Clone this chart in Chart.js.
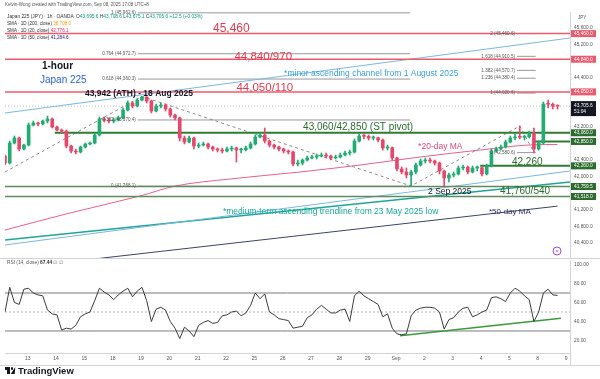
<!DOCTYPE html>
<html>
<head>
<meta charset="utf-8">
<script src="https://cdn.jsdelivr.net/npm/chart.js@4.4.1/dist/chart.umd.min.js"></script>
<style>
  body { margin: 0; background: #fff; }
  #wrap { position: relative; width: 600px; height: 379px; overflow: hidden; font-family: 'Liberation Sans', Arial, sans-serif; }
  canvas { position: absolute; left: 0; }
  #price { top: 0; }
  #rsi { top: 259px; }
  .txt { position: absolute; white-space: nowrap; line-height: 1; }
  .g { color: #089981; }
</style>
</head>
<body>
<div id="wrap">
  <canvas id="price" width="600" height="259"></canvas>
  <canvas id="rsi" width="600" height="120"></canvas>

  <div class="txt" style="left:5px;top:3px;font-size:4.5px;color:#555">Kelvin-Wong created with TradingView.com, Sep 08, 2025 17:08 UTC+8</div>
  <div class="txt" style="left:7px;top:14.5px;font-size:4.8px;color:#333">Japan 225 (JPY) · 1h · OANDA &nbsp;O<span class="g">43,695.6</span> H<span class="g">43,708.6</span> L<span class="g">43,675.1</span> C<span class="g">43,705.6</span> <span class="g">+12.5 (+0.03%)</span></div>
  <div class="txt" style="left:7px;top:21.5px;font-size:4.6px;color:#333">SMA · 1D (200, close) <span style="color:#f5a000">38,708.0</span></div>
  <div class="txt" style="left:7px;top:28.5px;font-size:4.6px;color:#333">SMA · 1D (20, close) <span style="color:#e91e63">42,776.1</span></div>
  <div class="txt" style="left:7px;top:35.5px;font-size:4.6px;color:#333">SMA · 1D (50, close) <span style="color:#1a237e">41,284.6</span></div>

  <div style="position:absolute;left:5px;top:367px;width:5px;height:2.5px;background:#131722"></div>
  <div style="position:absolute;left:7px;top:367px;width:2.5px;height:7px;background:#131722"></div>
  <div style="position:absolute;left:10.5px;top:367px;width:2.5px;height:2.5px;border-radius:50%;background:#131722"></div>
  <div style="position:absolute;left:12px;top:367px;width:0;height:0;border-left:2px solid transparent;border-right:2px solid transparent;border-bottom:7px solid #131722;transform:skewX(-20deg)"></div>
  <div class="txt" style="left:18px;top:366px;font-size:9.5px;font-weight:bold;color:#131722">TradingView</div>
</div>

<script>
// Japan 225 (OANDA) 1h chart, drawn as 4-hour candles

// ---- data ----
const dayLabels = ['13', '14', '15', '18', '19', '20', '21', '22', '25', '26', '27', '28', '29', 'Sep', '2', '3', '4', '5', '8', '9'];
const BAR_START = -0.8;     // first bar, in trading days (0 = 13 Aug)
const BARS_PER_DAY = 6;

const opens = [42498, 42329, 42813, 42934, 42668, 42764, 43248, 43297, 43273, 43345,
  43394, 43200, 43127, 43103, 42740, 42619, 42595, 42716, 42789, 42813,
  43006, 43394, 43369, 43345, 43369, 43418, 43611, 43781, 43708, 43853,
  43926, 43829, 43587, 43708, 43732, 43636, 43490, 43418, 42934, 42837,
  42934, 42740, 42764, 42789, 42716, 42668, 42643, 42619, 42668, 42692,
  42643, 42650, 42692, 42789, 42958, 43006, 42861, 42764, 42716, 42668,
  42619, 42595, 42305, 42329, 42401, 42450, 42474, 42498, 42522, 42498,
  42450, 42474, 42522, 42571, 42595, 42861, 42982, 42975, 42934, 42940,
  42885, 42692, 42700, 42450, 42184, 42111, 42038, 42111, 42280, 42377,
  42401, 42377, 42329, 42135, 41966, 42038, 42063, 42208, 42232, 42111,
  42208, 42215, 42063, 42256, 42619, 42668, 42716, 42837, 42934, 42958,
  42950, 42960, 43055, 42668, 42813, 43757, 43750, 43708];
const highs = [42522, 42861, 42982, 42958, 42789, 43297, 43345, 43321, 43369, 43466,
  43418, 43224, 43152, 43127, 42764, 42668, 42740, 42813, 42837, 43055,
  43442, 43442, 43418, 43418, 43466, 43660, 43829, 43805, 43878, 43942,
  43935, 43853, 43757, 43781, 43757, 43660, 43515, 43442, 42982, 42982,
  42958, 42813, 42837, 42813, 42740, 42692, 42692, 42716, 42740, 42716,
  42692, 42740, 42837, 43006, 43055, 43176, 42885, 42789, 42740, 42692,
  42643, 42619, 42401, 42426, 42498, 42522, 42547, 42571, 42571, 42522,
  42522, 42571, 42619, 42643, 42910, 43031, 43031, 43006, 42982, 42958,
  42910, 42764, 42716, 42474, 42232, 42208, 42159, 42329, 42426, 42450,
  42450, 42401, 42353, 42159, 42087, 42111, 42256, 42280, 42256, 42256,
  42256, 42232, 42305, 42668, 42716, 42764, 42885, 42982, 43031, 43224,
  43006, 43103, 43176, 42861, 43805, 43853, 43781, 43732];
const lows = [42280, 42305, 42789, 42619, 42643, 42740, 43224, 43224, 43248, 43297,
  43176, 43103, 43055, 42692, 42571, 42547, 42571, 42692, 42764, 42789,
  42982, 43321, 43297, 43297, 43345, 43394, 43587, 43660, 43684, 43829,
  43781, 43539, 43563, 43660, 43587, 43442, 43369, 42861, 42789, 42813,
  42668, 42692, 42740, 42668, 42619, 42595, 42571, 42595, 42619, 42353,
  42571, 42619, 42668, 42764, 42934, 42813, 42716, 42668, 42619, 42571,
  42547, 42256, 42256, 42280, 42377, 42426, 42426, 42474, 42450, 42401,
  42426, 42450, 42498, 42522, 42571, 42837, 42910, 42885, 42885, 42837,
  42643, 42643, 42401, 42135, 42063, 41966, 41772, 42063, 42256, 42329,
  42329, 42280, 42063, 41760, 41869, 41990, 42038, 42159, 42063, 42087,
  42135, 42014, 42038, 42232, 42595, 42643, 42692, 42813, 42885, 42910,
  42885, 42934, 42571, 42640, 42789, 43660, 43636, 43636];
const closes = [42329, 42813, 42934, 42668, 42764, 43248, 43297, 43273, 43345, 43394,
  43200, 43127, 43103, 42740, 42619, 42595, 42716, 42789, 42813, 43006,
  43394, 43369, 43345, 43369, 43418, 43611, 43781, 43708, 43853, 43926,
  43829, 43587, 43708, 43732, 43636, 43490, 43418, 42934, 42837, 42934,
  42740, 42764, 42789, 42716, 42668, 42643, 42619, 42668, 42692, 42643,
  42650, 42692, 42789, 42958, 43006, 42861, 42764, 42716, 42668, 42619,
  42595, 42305, 42329, 42401, 42450, 42474, 42498, 42522, 42498, 42450,
  42474, 42522, 42571, 42595, 42861, 42982, 42975, 42934, 42940, 42885,
  42692, 42700, 42450, 42184, 42111, 42038, 42111, 42280, 42377, 42401,
  42377, 42329, 42135, 41966, 42038, 42063, 42208, 42232, 42111, 42208,
  42215, 42063, 42256, 42619, 42668, 42716, 42837, 42934, 42958, 42950,
  42960, 43055, 42668, 42813, 43757, 43750, 43708, 43706];
const rsi14 = [50, 76, 60, 58, 74, 75, 70, 68, 67, 52,
  48, 47, 31, 33, 32, 36, 45, 48, 50, 62,
  75, 71, 68, 63, 68, 72, 75, 66, 72, 76,
  62, 40, 53, 55, 52, 40, 33, 22, 34, 30,
  24, 36, 39, 41, 38, 39, 46, 47, 50, 51,
  46, 49, 57, 70, 64, 69, 50, 47, 43, 42,
  41, 33, 34, 35, 44, 47, 53, 57, 53, 49,
  49, 52, 53, 40, 67, 72, 67, 64, 61, 58,
  45, 48, 33, 27, 26, 27, 46, 52, 54, 55,
  55, 54, 50, 32, 42, 44, 50, 54, 55, 45,
  47, 50, 52, 65, 66, 64, 61, 70, 75, 72,
  67, 63, 40, 50, 70, 74, 68, 67.44];

const smaDays = [-0.8, 1.49, 3.96, 5.21, 7.14, 9.61, 11.73, 13.85, 15.97, 17.84, 18.7];
const sma20 = [40707, 41119, 41530, 41772, 41942, 42111, 42280, 42474, 42643, 42770, 42776];
const sma50Days = [-0.8, 18.7];
const sma50 = [39760, 41285];

const resistance = [45460, 44840, 44050];
const pivots = [43060, 42850, 42260];
const pivotStart = [0.96, 17.9, 15.97];
const supports = [41759.5, 41518];
const lastPrice = 43705.6;

const fibRetraceLevels = ['1', '0.764', '0.618', '0.382', '0'];
const fibRetracePrices = [45962.6, 44972.7, 44360.3, 43370.4, 41768.1];
const fibExtLevels = ['2', '1.618', '1.382', '1.236', '1', '0'];
const fibExtPrices = [45460.6, 44910.5, 44570.7, 44380.4, 44020.6, 42580.6];

const zigzagDays = [-0.8, 4.03, 13.53, 17.37, 17.87];
const zigzagPrices = [42111, 43942, 41772, 43224, 42580.6];
const channelTop = [43539, 45354];
const channelBottom = [40345, 42135];
const mediumTrend = [40465, 41869];

const priceTicks = [40400, 40800, 41200, 41600, 42000, 42400, 42800, 43200, 43600, 44000, 44400, 44800, 45200, 45600];
const rsiTicks = [20, 40, 60, 80, 100];
const rsiBands = [70, 50, 30];
const rsiTrendDays = [13.14, 18.82];
const rsiTrend = [25, 43.3];

// ---- look ----
const FONT = "'Liberation Sans', Arial, sans-serif";
const UP = '#22ab72', DOWN = '#e5486b';
const RED_L = '#ec5a6e', RED_T = '#e23a50';
const GREEN_L = '#2f7d32', GREEN_T = '#2c6b2e', GREEN_S = '#5e8a5e';
const FIB = '#9598a1';
const X_MIN = -0.8, X_MAX = 19.14;
const P_MIN = 40030, P_MAX = 45983;
const R_MIN = 6.84, R_MAX = 104.74;
const FIB_R = [3.89, 13.5];
const FIB_E = [17.27, 17.93];

const priceTags = [
  { v: 45460, c: RED_L }, { v: 44840, c: RED_L }, { v: 44050, c: RED_L },
  { v: lastPrice, c: '#131722', sub: '51:04' },
  { v: 43060, c: GREEN_T }, { v: 42850, c: GREEN_T }, { v: 42260, c: GREEN_T },
  { v: 41759.5, c: GREEN_T }, { v: 41518, c: GREEN_T }
];

const notes = [
  { text: '45,460', day: 6.54, price: 45572, color: RED_T, size: 12 },
  { text: '44,840/970', day: 9.33, price: 44894, color: RED_T, size: 11.5, align: 'right' },
  { text: '44,050/110', day: 9.37, price: 44144, color: RED_T, size: 11.5, align: 'right' },
  { text: '1-hour', day: 0.505, price: 44676, color: '#131722', size: 10, weight: 'bold' },
  { text: 'Japan 225', day: 0.434, price: 44337, color: '#2f62d0', size: 10 },
  { text: '43,942 (ATH) - 18 Aug 2025', day: 2.02, price: 43999, color: '#131722', size: 8.5, weight: 'bold' },
  { text: '*minor ascending channel from 1 August 2025', day: 9.05, price: 44483, color: '#3d9fd6', size: 8.5 },
  { text: '43,060/42,850 (ST pivot)', day: 9.72, price: 43188, color: GREEN_T, size: 10 },
  { text: '*20-day MA', day: 13.78, price: 42728, color: '#e0467c', size: 8.5 },
  { text: '42,260', day: 17.09, price: 42353, color: GREEN_T, size: 10 },
  { text: '2 Sep 2025', day: 14.13, price: 41639, color: '#131722', size: 8.5 },
  { text: '41,760/540', day: 16.67, price: 41651, color: GREEN_T, size: 10 },
  { text: '*medium-term ascending trendline from 23 May 2025 low', day: 6.89, price: 41143, color: '#19a79a', size: 8.5 },
  { text: '*50-day MA', day: 16.28, price: 41143, color: '#283060', size: 8 }
];

const fmt1 = v => v.toLocaleString('en-US', { minimumFractionDigits: 1, maximumFractionDigits: 1 });
const fmt2 = v => v.toFixed(2);

// ---- helpers ----
const barDays = closes.map((_, i) => BAR_START + i / BARS_PER_DAY);
const candleColor = closes.map((c, i) => c >= opens[i] ? UP : DOWN);
const seg = (x0, x1, y) => [{ x: x0, y }, { x: x1, y }];
const pts = (xs, ys) => xs.map((x, i) => ({ x, y: ys[i] }));

function lineDs(data, color, width, dash, order) {
  return {
    type: 'line', data, borderColor: color, borderWidth: width, borderDash: dash || [],
    pointRadius: 0, fill: false, tension: 0, order: order || 5
  };
}

// keep the axis from adding its own label padding, so the plot area is exactly what layout says
function fixedWidth(s) {
  s.width = 30;
  s.paddingTop = 0;
  s.paddingBottom = 0;
}

// ---- price pane ----
const priceDatasets = [
  { type: 'bar', data: barDays.map((x, i) => ({ x, y: [lows[i], highs[i]] })), backgroundColor: candleColor, barThickness: 1, grouped: false, order: 1 },
  { type: 'bar', data: barDays.map((x, i) => ({ x, y: [opens[i], closes[i]] })), backgroundColor: candleColor, barThickness: 3, minBarLength: 1, grouped: false, order: 0 },
  lineDs(seg(X_MIN, X_MAX, lastPrice), '#bdbdbd', 1, [1, 2], 9),
  ...resistance.map(v => lineDs(seg(X_MIN, X_MAX, v), RED_L, 1.5, null, 6)),
  ...pivots.map((v, i) => lineDs(seg(pivotStart[i], X_MAX, v), GREEN_L, 2, null, 6)),
  ...supports.map(v => lineDs(seg(X_MIN, X_MAX, v), GREEN_S, 1.5, null, 6)),
  ...fibRetracePrices.map(v => lineDs(seg(FIB_R[0], FIB_R[1], v), FIB, 1, null, 8)),
  ...fibExtPrices.map(v => lineDs(seg(FIB_E[0], FIB_E[1], v), FIB, 1, null, 8)),
  lineDs(pts(zigzagDays, zigzagPrices), '#8a8a8a', 1, [3, 3], 7),
  lineDs(pts([X_MIN, X_MAX], channelTop), '#7ab8e0', 1, null, 7),
  lineDs(pts([X_MIN, X_MAX], channelBottom), '#7ab8e0', 1, null, 7),
  lineDs(pts([X_MIN, X_MAX], mediumTrend), '#1fa596', 1.5, null, 7),
  lineDs(pts(sma50Days, sma50), '#3d4466', 1, null, 7),
  Object.assign(lineDs(pts(smaDays, sma20), '#e8608a', 1, null, 7), { cubicInterpolationMode: 'monotone' })
];

const tagHidden = v => priceTags.some(t => Math.abs(t.v - v) < 120);

const priceDecor = {
  id: 'priceDecor',
  afterDatasetsDraw(chart) {
    const { ctx, scales: { x, y } } = chart;
    ctx.save();
    ctx.font = `4.6px ${FONT}`;
    ctx.fillStyle = '#555';
    ctx.textAlign = 'right';
    ctx.textBaseline = 'middle';
    fibRetracePrices.forEach((v, i) => ctx.fillText(`${fibRetraceLevels[i]} (${fmt1(v)})`, x.getPixelForValue(FIB_R[0]) - 2, y.getPixelForValue(v)));
    fibExtPrices.forEach((v, i) => ctx.fillText(`${fibExtLevels[i]} (${fmt1(v)})`, x.getPixelForValue(FIB_E[0]) - 2, y.getPixelForValue(v)));

    notes.forEach(n => {
      ctx.font = `${n.weight || 'normal'} ${n.size}px ${FONT}`;
      ctx.fillStyle = n.color;
      ctx.textAlign = n.align || 'left';
      ctx.fillText(n.text, x.getPixelForValue(n.day), y.getPixelForValue(n.price));
    });
    ctx.restore();
  },
  afterDraw(chart) {
    const { ctx, chartArea, scales: { y } } = chart;
    ctx.save();
    // axis value tags
    ctx.textAlign = 'left';
    ctx.textBaseline = 'middle';
    priceTags.forEach(t => {
      const py = y.getPixelForValue(t.v);
      const h = t.sub ? 15 : 7;
      const top = t.sub ? py - 5 : py - h / 2;
      ctx.fillStyle = t.c;
      ctx.fillRect(chartArea.right + 1, top, 25, h);
      ctx.fillStyle = '#fff';
      ctx.font = `4.8px ${FONT}`;
      ctx.fillText(fmt1(t.v), chartArea.right + 4, py);
      if (t.sub) ctx.fillText(t.sub, chartArea.right + 4, py + 6);
    });
    ctx.fillStyle = '#555';
    ctx.font = `4.6px ${FONT}`;
    ctx.fillText('JPY', chartArea.right + 8, 18);

    // pane separator
    ctx.strokeStyle = '#d1d4dc';
    ctx.lineWidth = 1;
    ctx.beginPath();
    ctx.moveTo(0, 258.5);
    ctx.lineTo(600, 258.5);
    ctx.stroke();

    // alert icon
    ctx.strokeStyle = '#a04bd1';
    ctx.beginPath();
    ctx.arc(557, 251, 4, 0, Math.PI * 2);
    ctx.stroke();
    ctx.fillStyle = '#a04bd1';
    ctx.beginPath();
    ctx.moveTo(558, 248); ctx.lineTo(555.5, 251.5); ctx.lineTo(557.5, 251.5);
    ctx.lineTo(556, 254); ctx.lineTo(558.5, 250.5); ctx.lineTo(556.5, 250.5);
    ctx.closePath();
    ctx.fill();
    ctx.restore();
  }
};

new Chart(document.getElementById('price'), {
  type: 'bar',
  data: { datasets: priceDatasets },
  options: {
    responsive: false,
    animation: false,
    devicePixelRatio: 1,
    layout: { padding: { left: 5, right: 0, top: 12, bottom: 1 } },
    plugins: { legend: { display: false }, tooltip: { enabled: false } },
    scales: {
      x: { type: 'linear', min: X_MIN, max: X_MAX, offset: false, display: false },
      y: {
        position: 'right', min: P_MIN, max: P_MAX,
        grid: { display: false, drawTicks: false },
        border: { display: true, color: '#d1d4dc' },
        afterFit: fixedWidth,
        afterBuildTicks(s) { s.ticks = priceTicks.map(v => ({ value: v })); },
        ticks: {
          padding: 4, color: '#555', font: { size: 4.8, family: FONT },
          callback: v => tagHidden(v) ? '' : fmt1(v)
        }
      }
    }
  },
  plugins: [priceDecor]
});

// ---- RSI pane ----
const rsiDecor = {
  id: 'rsiDecor',
  afterDraw(chart) {
    const { ctx, chartArea } = chart;
    ctx.save();
    ctx.textBaseline = 'middle';
    ctx.textAlign = 'left';
    ctx.font = `4.8px ${FONT}`;
    ctx.fillStyle = '#555';
    ctx.fillText('RSI (14, close)', 7, 3.5);
    const w = ctx.measureText('RSI (14, close) ').width;
    ctx.font = `bold 4.8px ${FONT}`;
    ctx.fillStyle = '#333';
    ctx.fillText(rsi14[rsi14.length - 1].toFixed(2), 7 + w, 3.5);
    const w2 = ctx.measureText('67.44 ').width;
    ctx.font = `4.8px ${FONT}`;
    ctx.fillStyle = '#777';
    ctx.fillText('∅ ∅', 7 + w + w2, 3.5);

    ctx.strokeStyle = '#d1d4dc';
    ctx.lineWidth = 1;
    ctx.beginPath();
    ctx.moveTo(0, 106.5);
    ctx.lineTo(600, 106.5);
    ctx.moveTo(chartArea.right + 0.5, chartArea.bottom);
    ctx.lineTo(chartArea.right + 0.5, 106.5);
    ctx.stroke();
    ctx.restore();
  }
};

new Chart(document.getElementById('rsi'), {
  type: 'line',
  data: {
    datasets: [
      lineDs(barDays.map((x, i) => ({ x, y: rsi14[i] })), '#3b3b3b', 1, null, 1),
      lineDs(seg(X_MIN, X_MAX, rsiBands[0]), '#787b86', 1, null, 5),
      lineDs(seg(X_MIN, X_MAX, rsiBands[1]), '#b2b5be', 1, [2, 2], 5),
      lineDs(seg(X_MIN, X_MAX, rsiBands[2]), '#787b86', 1, null, 5),
      lineDs(pts(rsiTrendDays, rsiTrend), '#3c9a3c', 1.5, null, 2)
    ]
  },
  options: {
    responsive: false,
    animation: false,
    devicePixelRatio: 1,
    layout: { padding: { left: 5, right: 0, top: 1, bottom: 14 } },
    plugins: { legend: { display: false }, tooltip: { enabled: false } },
    scales: {
      x: {
        type: 'linear', min: X_MIN, max: X_MAX, offset: false,
        grid: { display: false, drawTicks: false },
        border: { display: true, color: '#d1d4dc' },
        afterFit(s) { s.height = 12; s.paddingLeft = 0; s.paddingRight = 0; },
        afterBuildTicks(s) { s.ticks = dayLabels.map((_, i) => ({ value: i })); },
        ticks: {
          autoSkip: false, maxRotation: 0, padding: 3, color: '#555',
          font: { size: 5, family: FONT },
          callback: v => dayLabels[v] ?? ''
        }
      },
      y: {
        position: 'right', min: R_MIN, max: R_MAX,
        grid: { display: false, drawTicks: false },
        border: { display: true, color: '#d1d4dc' },
        afterFit: fixedWidth,
        afterBuildTicks(s) { s.ticks = rsiTicks.map(v => ({ value: v })); },
        ticks: { padding: 4, color: '#555', font: { size: 4.8, family: FONT }, callback: v => fmt2(v) }
      }
    }
  },
  plugins: [rsiDecor]
});
</script>
</body>
</html>
